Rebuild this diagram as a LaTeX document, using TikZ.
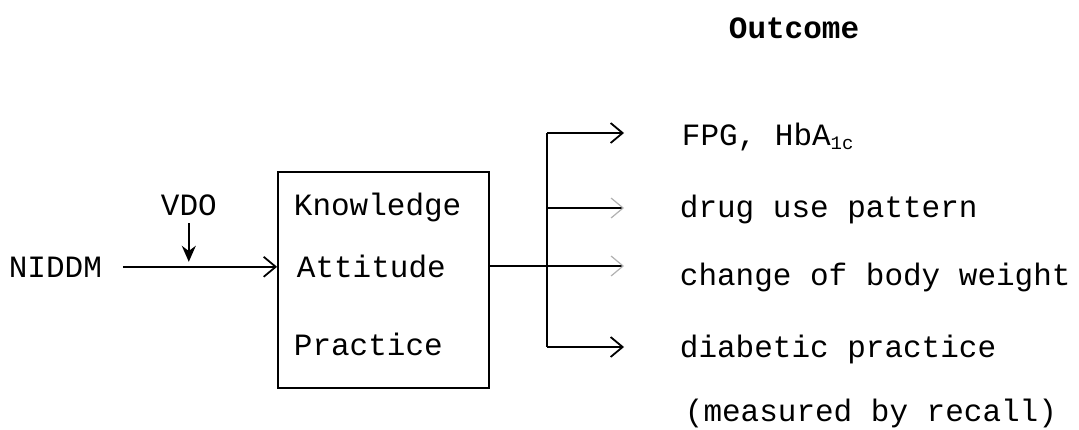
\documentclass[tikz,border=0pt]{standalone}
\usepackage{fontspec}
\setmonofont{Liberation Mono}
\usetikzlibrary{arrows.meta}

\begin{document}
\begin{tikzpicture}[x=0.5pt,y=-0.5pt,line width=0.9pt,
    txt/.style={anchor=base west,inner sep=0pt,font=\ttfamily\fontsize{15.5}{18}\selectfont},
    outarrow/.style={-{Straight Barb[length=6pt,width=10pt]}},
    faintarrow/.style={-{Straight Barb[length=6pt,width=10pt,color=black!30,line width=0.6pt]}}]
  \useasboundingbox (0,0) rectangle (1079,429);
  % box
  \node[draw,minimum width=105.5pt,minimum height=108pt,inner sep=0pt] (kap) at (383.5,280) {};
  \node[txt] (know) at (293,215) {Knowledge};
  \node[txt] (att) at (296,277) {Attitude};
  \node[txt] (prac) at (293,355) {Practice};
  % input
  \node[txt] (niddm) at (8,277) {NIDDM};
  \node[txt] (vdo) at (160,215) {VDO};
  \draw[outarrow] ([xshift=10pt]niddm.east) -- (niddm.east -| kap.west);
  \draw[-{Stealth[length=8pt,width=7pt]},shorten <=3.5pt,shorten >=2.5pt] (vdo.south) -- (vdo.south |- niddm.east);
  % outcome
  \node[txt,font=\ttfamily\bfseries\fontsize{15.5}{18}\selectfont] (outcome) at (728,38) {Outcome};
  \node[txt] (fpg) at (681,145) {FPG, HbA\raisebox{-2pt}{\fontsize{9.5}{10}\selectfont 1c}};
  \node[txt] (drug) at (679,217) {drug use pattern};
  \node[txt] (weight) at (679,285) {change of body weight};
  \node[txt] (diab) at (679,357) {diabetic practice};
  \node[txt] (recall) at (684,421) {(measured by recall)};
  \coordinate (fork) at (547,266);
  \foreach \t/\y in {fpg/133,drug/208,weight/266,diab/347}
    \coordinate (tip-\t) at (624,\y);
  \draw (fork |- tip-fpg) -- (fork |- tip-diab);
  \draw[outarrow] (fork |- tip-fpg) -- (tip-fpg);
  \draw[outarrow] (fork |- tip-diab) -- (tip-diab);
  \draw[faintarrow] (fork |- tip-drug) -- (tip-drug);
  \draw[faintarrow] (kap.east |- fork) -- (tip-weight);
\end{tikzpicture}
\end{document}
